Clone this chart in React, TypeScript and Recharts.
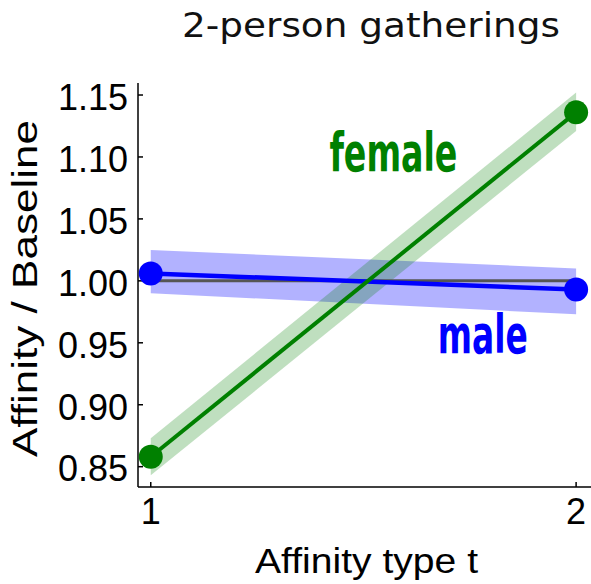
import React from 'react';
import {
  ComposedChart,
  Line,
  Area,
  XAxis,
  YAxis,
  ReferenceDot,
} from 'recharts';

// affinity type t
const types = [1, 2];
// female: mean and band
const female = [0.858, 1.136];
const femaleLow = [0.843, 1.121];
const femaleHigh = [0.873, 1.152];
// male: mean and band
const male = [1.006, 0.993];
const maleLow = [0.99, 0.973];
const maleHigh = [1.025, 1.01];
// baseline ratio
const baseline = [1, 1];

const yTicks = [0.85, 0.9, 0.95, 1.0, 1.05, 1.1, 1.15];
const xTicks = [1, 2];

const GREEN = '#008000';
const BLUE = '#0000ff';
const SANS = '"Liberation Sans", Arial, Helvetica, sans-serif';
const NARROW = '"Liberation Sans Narrow", "DejaVu Sans Condensed", "Liberation Sans", sans-serif';

const data = types.map((t, i) => ({
  t,
  female: female[i],
  femaleBand: [femaleLow[i], femaleHigh[i]],
  male: male[i],
  maleBand: [maleLow[i], maleHigh[i]],
  baseline: baseline[i],
}));

const seriesLabel = (text: string, color: string, len: number) => (props: any) => {
  const vb = props.viewBox || {};
  return (
    <text
      x={vb.x}
      y={vb.y}
      fill={color}
      fontFamily={NARROW}
      fontWeight="bold"
      fontSize={54}
      textLength={len}
      lengthAdjust="spacingAndGlyphs"
    >
      {text}
    </text>
  );
};

export default function App() {
  return (
    <div style={{ position: 'absolute', left: 0, top: 0, width: 591, height: 584, background: '#fff' }}>
      <ComposedChart
        width={591}
        height={584}
        data={data}
        margin={{ top: 83, right: 0, left: 38, bottom: 0 }}
      >
        <XAxis
          dataKey="t"
          type="number"
          domain={[0.97, 2.035]}
          ticks={xTicks}
          allowDataOverflow
          stroke="#000"
          strokeWidth={1.5}
          tickSize={-5}
          tickMargin={16}
          height={97}
          tick={{ fill: '#000', fontSize: 36, fontFamily: SANS }}
        />
        <YAxis
          type="number"
          domain={[0.8336, 1.1597]}
          ticks={yTicks}
          allowDataOverflow
          width={100}
          stroke="#000"
          strokeWidth={1.5}
          tickSize={-5}
          tickMargin={15}
          tickFormatter={(v: number) => v.toFixed(2)}
          tick={{ fill: '#000', fontSize: 36, fontFamily: SANS, dy: 2 }}
        />
        <Line
          dataKey="baseline"
          stroke="#555555"
          strokeWidth={3}
          dot={false}
          isAnimationActive={false}
        />
        <Area
          dataKey="maleBand"
          type="linear"
          fill={BLUE}
          fillOpacity={0.3}
          stroke="none"
          isAnimationActive={false}
        />
        <Area
          dataKey="femaleBand"
          type="linear"
          fill={GREEN}
          fillOpacity={0.25}
          stroke="none"
          isAnimationActive={false}
        />
        <Line
          dataKey="male"
          type="linear"
          stroke={BLUE}
          strokeWidth={4.5}
          dot={{ r: 12, fill: BLUE, stroke: 'none' }}
          isAnimationActive={false}
        />
        <Line
          dataKey="female"
          type="linear"
          stroke={GREEN}
          strokeWidth={4}
          dot={{ r: 12, fill: GREEN, stroke: 'none' }}
          isAnimationActive={false}
        />
        <ReferenceDot
          x={1.42}
          y={1.089}
          r={0}
          fill="none"
          stroke="none"
          label={seriesLabel('female', GREEN, 128)}
        />
        <ReferenceDot
          x={1.675}
          y={0.942}
          r={0}
          fill="none"
          stroke="none"
          label={seriesLabel('male', BLUE, 90)}
        />
      </ComposedChart>
      <svg
        width={591}
        height={584}
        style={{ position: 'absolute', left: 0, top: 0, pointerEvents: 'none' }}
      >
        <text
          x={371}
          y={37}
          textAnchor="middle"
          fontFamily='"DejaVu Sans", Verdana, sans-serif'
          fontSize={33}
          fill="#111"
          textLength={378}
          lengthAdjust="spacingAndGlyphs"
        >
          2-person gatherings
        </text>
        <text
          x={366.5}
          y={573}
          textAnchor="middle"
          fontFamily={SANS}
          fontSize={35}
          fill="#000"
          textLength={223}
          lengthAdjust="spacingAndGlyphs"
        >
          Affinity type t
        </text>
        <text
          x={37}
          y={288.5}
          textAnchor="middle"
          transform="rotate(-90 37 288.5)"
          fontFamily={SANS}
          fontSize={35}
          fill="#000"
          textLength={337}
          lengthAdjust="spacingAndGlyphs"
        >
          Affinity / Baseline
        </text>
      </svg>
    </div>
  );
}
